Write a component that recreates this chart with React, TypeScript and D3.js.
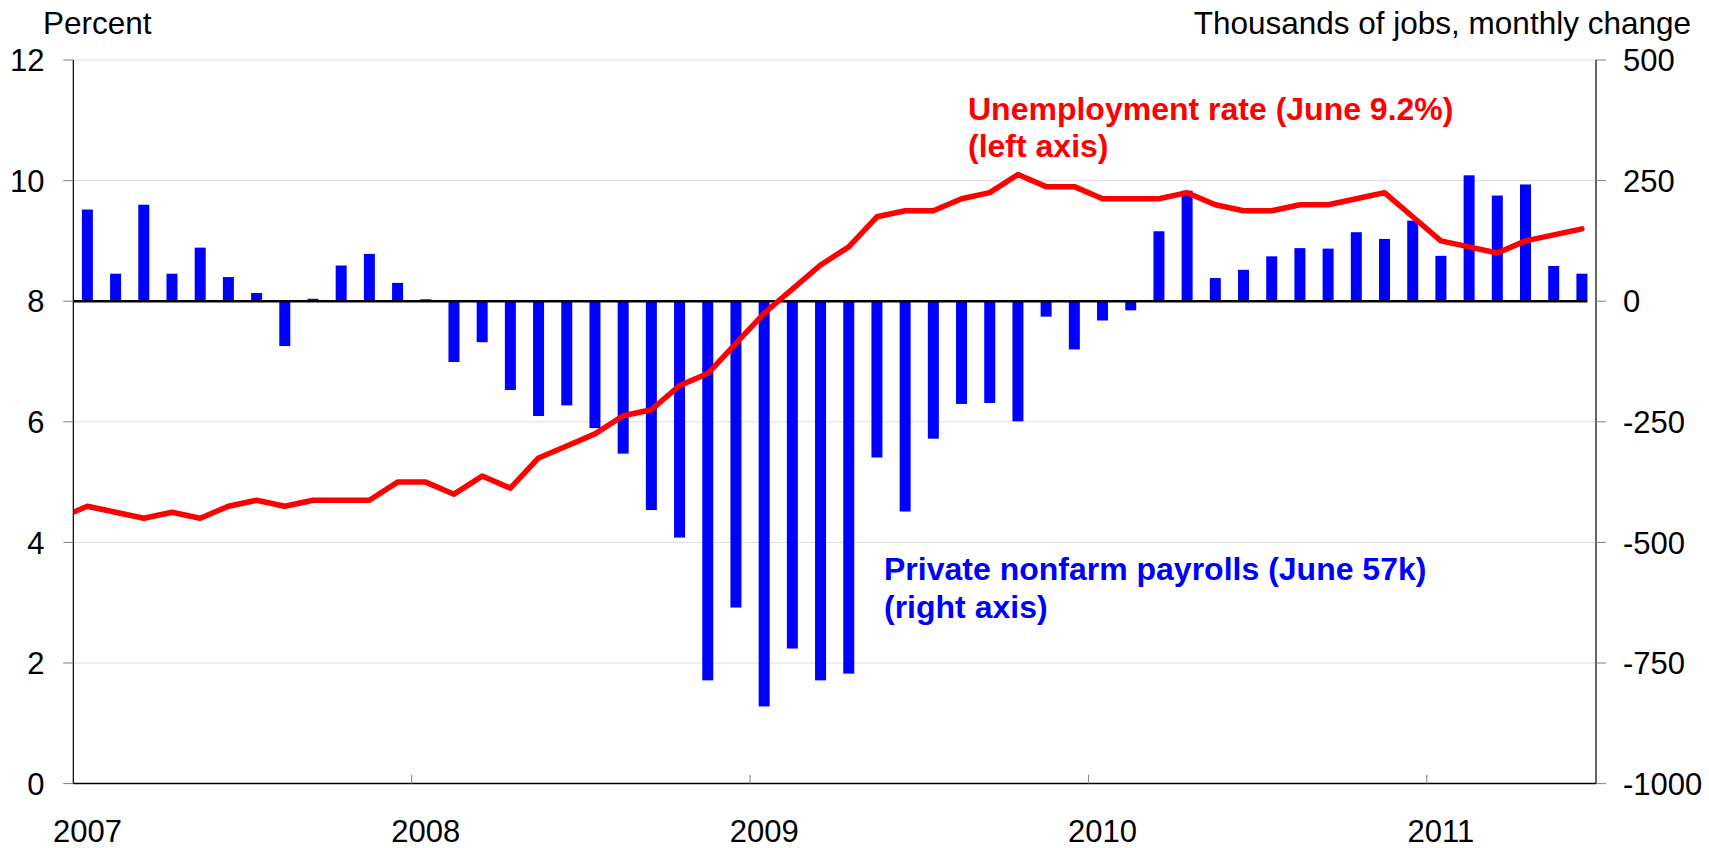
import React, { useEffect } from "react";
import * as d3 from "d3";

// Months: Jan 2007 .. Jun 2011
const months: Date[] = d3.timeMonths(new Date(2007, 0, 1), new Date(2011, 6, 1));

// Private nonfarm payrolls, thousands, monthly change (right axis)
const payrolls: number[] = [
  190, 57, 200, 57, 111, 50, 17, -93, 5, 74, 98, 38,
  4, -126, -85, -184, -238, -216, -263, -316, -433, -490, -786, -635,
  -840, -720, -786, -772, -324, -436, -285, -213, -211, -249, -32, -100,
  -40, -19, 145, 229, 48, 65, 93, 110, 109, 143, 129, 167,
  94, 261, 219, 242, 73, 57,
];

// Unemployment rate, percent (left axis); first value is Dec 2006
const unemployment: number[] = [
  4.4,
  4.6, 4.5, 4.4, 4.5, 4.4, 4.6, 4.7, 4.6, 4.7, 4.7, 4.7, 5.0,
  5.0, 4.8, 5.1, 4.9, 5.4, 5.6, 5.8, 6.1, 6.2, 6.6, 6.8, 7.3,
  7.8, 8.2, 8.6, 8.9, 9.4, 9.5, 9.5, 9.7, 9.8, 10.1, 9.9, 9.9,
  9.7, 9.7, 9.7, 9.8, 9.6, 9.5, 9.5, 9.6, 9.6, 9.7, 9.8, 9.4,
  9.0, 8.9, 8.8, 9.0, 9.1, 9.2,
];

const leftTicks: number[] = [0, 2, 4, 6, 8, 10, 12];
const rightTicks: number[] = [-1000, -750, -500, -250, 0, 250, 500];
const yearLabels: string[] = ["2007", "2008", "2009", "2010", "2011"];

const W = 1709;
const H = 848;
const L = 73.3;
const R = 1596;
const T = 60;
const B = 783.6;
const FONT = "'Liberation Sans', Arial, Helvetica, sans-serif";

export default function App() {
  useEffect(() => {
    document.body.style.margin = "0";
    document.body.style.overflow = "hidden";
  }, []);

  const x = d3
    .scaleBand<number>()
    .domain(months.map((_, i) => i))
    .range([L, R])
    .paddingInner(0)
    .paddingOuter(0);
  const step = x.step();
  const barW = 11;
  const center = (i: number) => L + (i + 0.5) * step;

  const yL = d3.scaleLinear().domain([0, 12]).range([B, T]);
  const yR = d3.scaleLinear().domain([-1000, 500]).range([B, T]);

  const line = d3
    .line<number>()
    .x((_, i) => center(i - 1))
    .y((d) => yL(d));

  const janIdx = months.map((m, i) => (m.getMonth() === 0 ? i : -1)).filter((i) => i >= 0);
  const lastIdx = months.length - 1;

  return (
    <svg width={W} height={H} style={{ display: "block", background: "#fff" }} fontFamily={FONT}>
      <defs>
        <clipPath id="plot">
          <rect x={L} y={T - 10} width={R - L} height={B - T + 20} />
        </clipPath>
      </defs>

      {/* gridlines */}
      {leftTicks
        .filter((t) => t !== 0 && t !== 8)
        .map((t) => (
          <line key={"g" + t} x1={L} x2={R} y1={yL(t)} y2={yL(t)} stroke="#dedede" strokeWidth={1} />
        ))}

      {/* bars */}
      {payrolls.map((v, i) => (
        <rect
          key={"b" + i}
          x={center(i) - barW / 2}
          width={barW}
          y={Math.min(yR(v), yR(0))}
          height={Math.abs(yR(v) - yR(0))}
          fill="#0000ff"
        />
      ))}

      {/* zero line */}
      <line x1={L} x2={center(lastIdx) + barW / 2} y1={yR(0)} y2={yR(0)} stroke="#000" strokeWidth={2.5} />

      {/* unemployment line */}
      <path
        d={line(unemployment) || ""}
        fill="none"
        stroke="#ff0000"
        strokeWidth={5.5}
        strokeLinejoin="round"
        strokeLinecap="round"
        clipPath="url(#plot)"
      />

      {/* left axis */}
      <line x1={L} x2={L} y1={T} y2={B} stroke="#000" strokeWidth={1.2} />
      {leftTicks.map((t) => (
        <g key={"lt" + t}>
          <line x1={L - 10} x2={L} y1={yL(t)} y2={yL(t)} stroke="#808080" strokeWidth={1} />
          <text x={44.5} y={yL(t)} dy="0.36em" textAnchor="end" fontSize={31} fill="#000">
            {t}
          </text>
        </g>
      ))}

      {/* right axis */}
      <line x1={R} x2={R} y1={T} y2={B} stroke="#000" strokeWidth={1.2} />
      {rightTicks.map((t) => (
        <g key={"rt" + t}>
          <line x1={R} x2={R + 10} y1={yR(t)} y2={yR(t)} stroke="#808080" strokeWidth={1} />
          <text x={1623} y={yR(t)} dy="0.36em" textAnchor="start" fontSize={31} fill="#000">
            {t}
          </text>
        </g>
      ))}

      {/* bottom axis */}
      <line x1={L} x2={R} y1={B} y2={B} stroke="#000" strokeWidth={1.5} />
      {janIdx
        .filter((i) => i > 0)
        .map((i) => (
          <line key={"xt" + i} x1={L + i * step} x2={L + i * step} y1={B - 9} y2={B} stroke="#808080" strokeWidth={1} />
        ))}
      {janIdx.map((i, k) => (
        <text key={"xl" + i} x={center(i)} y={841.5} textAnchor="middle" fontSize={31} fill="#000">
          {yearLabels[k]}
        </text>
      ))}

      {/* axis titles */}
      <text x={43} y={34} fontSize={31.5} fill="#000">
        Percent
      </text>
      <text x={1691} y={34} fontSize={31.5} textAnchor="end" fill="#000">
        Thousands of jobs, monthly change
      </text>

      {/* annotations */}
      <text x={968} y={119.5} fontSize={32} fontWeight="bold" fill="#ff0000">
        Unemployment rate (June 9.2%)
      </text>
      <text x={968} y={157} fontSize={32} fontWeight="bold" fill="#ff0000">
        (left axis)
      </text>
      <text x={884} y={579.5} fontSize={32} fontWeight="bold" fill="#0000ff">
        Private nonfarm payrolls (June 57k)
      </text>
      <text x={884} y={617.5} fontSize={32} fontWeight="bold" fill="#0000ff">
        (right axis)
      </text>
    </svg>
  );
}
